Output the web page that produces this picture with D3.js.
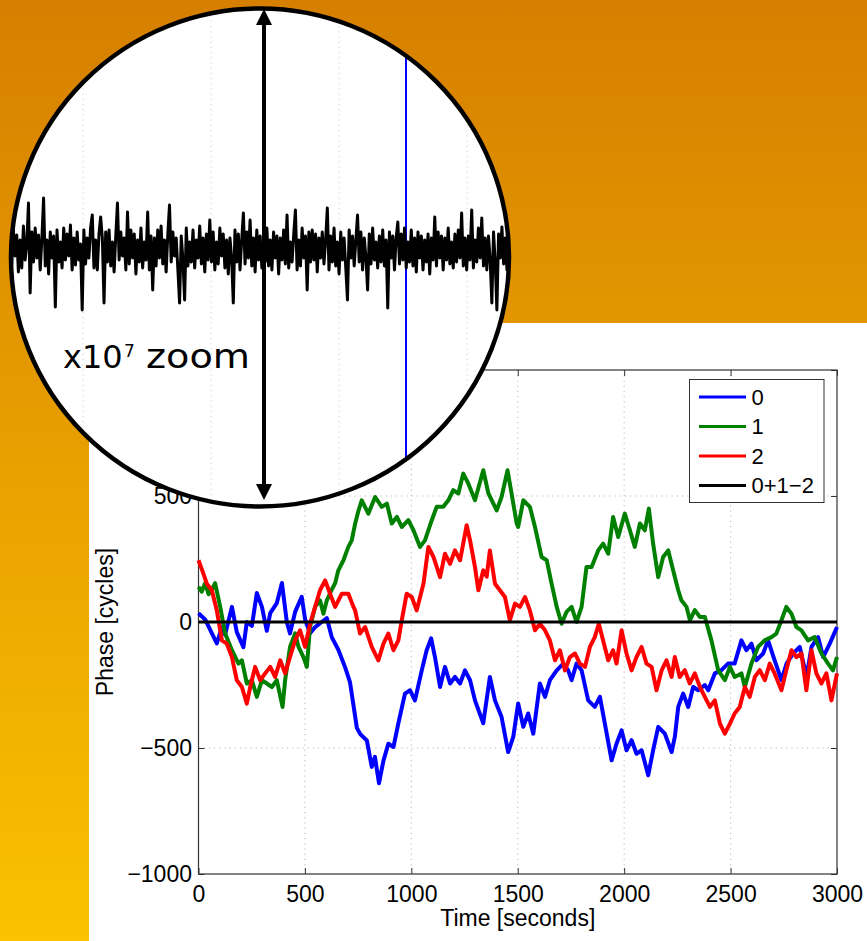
<!DOCTYPE html>
<html>
<head>
<meta charset="utf-8">
<script src="https://cdn.jsdelivr.net/npm/d3@7"></script>
<style>
  body { margin: 0; }
  svg { display: block; }
</style>
</head>
<body>
<script>
"use strict"

// phase of each clock, [time (s), phase (cycles)]
const phase0 = [[0,35],[31,10],[63,-45],[86,-85],[110,-20],[125,-50],[157,60],[180,-40],[211,-100],[227,0],[251,-15],[274,115],[298,60],[321,-35],[337,35],[368,75],[392,155],[415,0],[430,-45],[454,40],[485,100],[501,10],[524,-45],[548,-20],[579,0],[603,15],[626,-60],[657,-110],[689,-180],[712,-240],[728,-330],[744,-420],[760,-445],[791,-470],[814,-575],[829,-535],[848,-640],[869,-550],[892,-483],[916,-496],[939,-402],[970,-284],[994,-271],[1017,-311],[1049,-192],[1072,-112],[1093,-65],[1111,-139],[1135,-258],[1158,-178],[1182,-244],[1205,-218],[1229,-244],[1252,-192],[1276,-231],[1299,-311],[1338,-402],[1369,-218],[1393,-311],[1424,-377],[1455,-516],[1479,-456],[1502,-323],[1526,-416],[1549,-363],[1573,-443],[1604,-244],[1628,-297],[1651,-231],[1683,-192],[1714,-165],[1737,-192],[1753,-231],[1776,-165],[1800,-192],[1831,-311],[1862,-337],[1886,-297],[1909,-402],[1941,-549],[1964,-483],[1988,-430],[2011,-509],[2035,-469],[2058,-523],[2082,-509],[2113,-608],[2136,-509],[2160,-416],[2191,-443],[2223,-516],[2238,-456],[2254,-337],[2277,-284],[2301,-337],[2324,-258],[2348,-271],[2379,-250],[2395,-271],[2426,-204],[2457,-191],[2488,-165],[2519,-165],[2551,-73],[2574,-112],[2598,-86],[2621,-152],[2653,-125],[2676,-73],[2707,-152],[2739,-231],[2763,-165],[2794,-125],[2825,-99],[2857,-218],[2880,-99],[2911,-60],[2935,-139],[2966,-86],[3000,-20]]

const phase1 = [[0,139],[15,120],[31,154],[47,110],[63,128],[78,154],[102,60],[125,-45],[157,-112],[188,-165],[204,-152],[227,-244],[251,-231],[274,-297],[298,-231],[321,-244],[345,-258],[368,-231],[395,-337],[407,-231],[430,-99],[454,-45],[470,-99],[493,-139],[509,-178],[524,-20],[548,60],[571,86],[587,33],[603,86],[626,128],[642,154],[657,205],[681,245],[704,298],[720,324],[736,390],[751,440],[767,483],[798,430],[830,496],[861,457],[885,470],[908,391],[932,417],[955,377],[986,404],[1010,364],[1041,298],[1064,324],[1096,404],[1119,457],[1150,457],[1174,483],[1197,523],[1221,510],[1244,589],[1268,549],[1299,483],[1338,602],[1362,510],[1401,443],[1424,496],[1452,602],[1471,510],[1495,391],[1502,377],[1526,483],[1557,457],[1581,377],[1612,258],[1636,245],[1659,152],[1683,60],[1706,-7],[1729,40],[1753,60],[1776,0],[1800,60],[1823,218],[1847,218],[1878,284],[1901,311],[1925,271],[1948,417],[1972,337],[2003,430],[2027,364],[2050,298],[2074,391],[2097,364],[2116,450],[2136,311],[2160,178],[2183,258],[2207,284],[2230,205],[2254,126],[2269,86],[2293,60],[2309,7],[2332,47],[2356,20],[2379,20],[2410,-73],[2442,-192],[2473,-231],[2497,-178],[2519,-218],[2551,-204],[2567,-258],[2598,-165],[2629,-99],[2660,-73],[2692,-60],[2715,-46],[2739,7],[2762,60],[2786,33],[2809,-20],[2833,-33],[2864,-73],[2895,-60],[2927,-125],[2958,-165],[2981,-192],[3000,-139]]

const phase2 = [[0,245],[23,192],[39,152],[63,126],[86,46],[110,-73],[133,-86],[157,-139],[180,-231],[204,-258],[227,-324],[243,-258],[266,-178],[290,-231],[313,-204],[337,-178],[360,-218],[384,-152],[407,-204],[430,-139],[454,-73],[477,-33],[501,-99],[524,-7],[548,60],[571,126],[595,165],[618,112],[642,60],[673,112],[704,112],[728,60],[736,46],[759,-46],[783,-20],[814,-99],[845,-152],[869,-86],[892,-46],[916,-112],[939,-73],[955,7],[978,112],[1002,99],[1025,46],[1057,152],[1080,298],[1104,258],[1135,178],[1158,271],[1182,231],[1205,284],[1229,245],[1260,384],[1276,324],[1299,218],[1315,126],[1338,205],[1354,180],[1369,284],[1393,152],[1416,126],[1440,99],[1463,7],[1487,73],[1510,60],[1534,99],[1557,46],[1581,-33],[1604,-7],[1628,-33],[1651,-73],[1675,-152],[1698,-112],[1722,-192],[1745,-139],[1769,-125],[1792,-165],[1816,-178],[1839,-99],[1862,-60],[1881,-7],[1901,-73],[1925,-152],[1948,-112],[1964,-165],[1988,-33],[2011,-125],[2035,-192],[2058,-139],[2082,-99],[2105,-165],[2129,-178],[2152,-271],[2176,-192],[2199,-152],[2223,-218],[2238,-139],[2261,-218],[2285,-191],[2308,-244],[2332,-204],[2356,-258],[2379,-297],[2403,-337],[2426,-311],[2450,-403],[2473,-443],[2497,-403],[2519,-363],[2543,-337],[2567,-258],[2590,-297],[2614,-218],[2637,-191],[2661,-231],[2684,-165],[2707,-204],[2739,-271],[2762,-191],[2786,-112],[2809,-139],[2833,-125],[2856,-271],[2880,-112],[2903,-204],[2927,-244],[2950,-204],[2974,-311],[3000,-204]]

// closure 0+1-2, flat at this scale
const closure = [[0,0],[3000,0]]

// closure residual seen inside the magnifier (x10^7)
const residual = [
  8,-14,20,-6,15,-22,10,-18,24,-10,6,47,-43,18,-12,22,-8,15,-20,12,
  52,-16,10,-24,18,-8,14,-57,20,-12,8,-18,22,-10,16,-6,25,-20,12,-15,
  18,-10,6,-60,20,-14,12,-8,22,35,-18,10,-20,16,33,12,-53,18,-12,20,
  -16,8,-22,14,47,-10,18,-6,12,-20,38,-14,20,-8,16,-24,10,-12,22,-18,
  8,-10,38,-20,14,-40,12,-16,20,-8,24,-14,10,-22,16,45,-12,18,-6,12,
  -20,-53,14,-10,-50,22,-16,8,-12,20,-18,10,-8,24,-14,12,-22,16,-10,30,
  -12,18,-20,8,-14,22,-6,16,-18,10,-24,12,-8,-53,20,-12,16,-20,10,37,
  -14,18,-8,30,-16,12,-22,20,-10,14,-18,8,-12,22,-16,10,-20,18,-8,14,
  -24,12,-10,20,-14,35,-18,8,-12,16,40,-20,10,-16,22,-8,14,-40,18,-12,
  20,-10,16,-22,12,-8,18,-14,10,42,-20,14,-12,22,-16,8,-24,18,-10,12,
  -18,-50,20,-8,14,-16,10,35,-12,18,-20,12,-8,-40,16,-14,22,-10,8,-18,
  14,-12,20,-16,10,-58,18,-8,14,-20,12,28,-14,16,-10,22,-18,8,-12,20,
  -16,12,-22,18,-8,14,-20,10,-12,16,-24,12,-10,33,-16,18,-8,14,-20,12,
  -10,22,-14,8,-18,16,-12,20,-8,37,-16,12,-20,14,-10,40,-18,10,-12,22,
  -8,32,-16,12,-20,14,-10,-53,18,-12,-60,16,-8,23,-14,12,-20,18,-10,6
]

const seriesNames  = ["0", "1", "2", "0+1\u22122"]
const seriesColors = ["#0000ff", "#008000", "#ff0000", "#000000"]
const xTicks = [0, 500, 1000, 1500, 2000, 2500, 3000]
const yTicks = [-1000, -500, 0, 500, 1000]

const W = 867, H = 941
const plot = { left : 198.5, right : 837, top : 370, bottom : 874 }

const svg = d3.select("body").append("svg")
  .attr("width", W)
  .attr("height", H)
  .style("font-family", "'Liberation Sans', Arial, sans-serif")

// orange backdrop
const defs = svg.append("defs")
const grad = defs.append("linearGradient")
  .attr("id", "bg").attr("x1", 0).attr("y1", 0).attr("x2", 0).attr("y2", 1)
grad.append("stop").attr("offset", "0%").attr("stop-color", "#d67f00")
grad.append("stop").attr("offset", "100%").attr("stop-color", "#fac200")
svg.append("rect").attr("width", W).attr("height", H).attr("fill", "url(#bg)")

// white figure panel
svg.append("rect")
  .attr("x", 89).attr("y", 323).attr("width", W - 89).attr("height", H - 323)
  .attr("fill", "#fff")

const x = d3.scaleLinear().domain([0, 3000]).range([plot.left, plot.right])
const y = d3.scaleLinear().domain([-1000, 1000]).range([plot.bottom, plot.top])

// dotted grid
const grid = svg.append("g").attr("stroke", "#b8b8b8").attr("stroke-dasharray", "1.2,4").attr("stroke-width", 1)
grid.selectAll(".gx").data(xTicks.slice(1, -1)).join("line")
  .attr("x1", d => x(d)).attr("x2", d => x(d))
  .attr("y1", plot.top).attr("y2", plot.bottom)
grid.selectAll(".gy").data(yTicks.slice(1, -1)).join("line")
  .attr("y1", d => y(d)).attr("y2", d => y(d))
  .attr("x1", plot.left).attr("x2", plot.right)

// axes, ticks pointing inwards
const fmt = d3.format("d")
const styleAxis = g => {
  g.select(".domain").remove()
  g.selectAll(".tick line").attr("stroke", "#333")
  g.selectAll("text").attr("font-size", 23).attr("fill", "#000")
}
svg.append("g").attr("transform", `translate(0,${plot.bottom})`)
  .call(d3.axisBottom(x).tickValues(xTicks).tickFormat(fmt).tickSize(-6).tickPadding(11.5)).call(styleAxis)
  .attr("font-family", null)
svg.append("g").attr("transform", `translate(0,${plot.top})`)
  .call(d3.axisTop(x).tickValues(xTicks).tickSize(-6).tickFormat("")).call(styleAxis)
// top label (1000) sits under the magnifier, so it is left blank
svg.append("g").attr("transform", `translate(${plot.left},0)`)
  .call(d3.axisLeft(y).tickValues(yTicks).tickFormat(d => d === 1000 ? "" : fmt(d)).tickSize(-6).tickPadding(6.5))
  .call(styleAxis)
  .attr("font-family", null)
svg.append("g").attr("transform", `translate(${plot.right},0)`)
  .call(d3.axisRight(y).tickValues(yTicks).tickSize(-6).tickFormat("")).call(styleAxis)

svg.append("rect")
  .attr("x", plot.left).attr("y", plot.top)
  .attr("width", plot.right - plot.left).attr("height", plot.bottom - plot.top)
  .attr("fill", "none").attr("stroke", "#333").attr("stroke-width", 1.2)

// axis titles
svg.append("text")
  .attr("x", (plot.left + plot.right) / 2).attr("y", 926)
  .attr("text-anchor", "middle").attr("font-size", 23)
  .text("Time [seconds]")
svg.append("text")
  .attr("transform", `translate(113,${(plot.top + plot.bottom) / 2}) rotate(-90)`)
  .attr("text-anchor", "middle").attr("font-size", 23)
  .text("Phase [cycles]")

// phase traces
const line = d3.line().x(d => x(d[0])).y(d => y(d[1]))
svg.append("g").attr("fill", "none").attr("stroke-linejoin", "round")
  .selectAll("path").data([phase0, phase1, phase2, closure]).join("path")
  .attr("stroke", (d, i) => seriesColors[i])
  .attr("stroke-width", (d, i) => i === 3 ? 3 : 4)
  .attr("d", line)

// legend
const legend = svg.append("g")
legend.append("rect")
  .attr("x", 689.5).attr("y", 379.5).attr("width", 134.5).attr("height", 123)
  .attr("fill", "#fff").attr("stroke", "#333").attr("stroke-width", 1)
const items = legend.selectAll(".item").data(seriesNames).join("g")
  .attr("transform", (d, i) => `translate(0,${397 + i * 29.5})`)
items.append("line")
  .attr("x1", 699).attr("x2", 746)
  .attr("stroke", (d, i) => seriesColors[i]).attr("stroke-width", 3)
items.append("text")
  .attr("x", 751.5).attr("dy", "0.35em").attr("font-size", 22)
  .text(d => d)

// magnifier
const lens = { cx : 260, cy : 257.5, r : 249 }
defs.append("clipPath").attr("id", "lens")
  .append("circle").attr("cx", lens.cx).attr("cy", lens.cy).attr("r", lens.r)

const mag = svg.append("g")
mag.append("circle").attr("cx", lens.cx).attr("cy", lens.cy).attr("r", lens.r).attr("fill", "#fff")

const inner = mag.append("g").attr("clip-path", "url(#lens)")
const zx = d3.scaleLinear().domain([0, residual.length - 1]).range([10, 512])
const zy = d3.scaleLinear().domain([-100, 100]).range([350, 150])

inner.append("g").attr("stroke", "#d2d2d2").attr("stroke-dasharray", "1.2,4")
  .selectAll("line").data([83, 211, 339, 467]).join("line")
  .attr("x1", d => d).attr("x2", d => d).attr("y1", 0).attr("y2", 520)

inner.append("line")
  .attr("x1", 406).attr("x2", 406).attr("y1", 0).attr("y2", 520)
  .attr("stroke", "#0000ff").attr("stroke-width", 2)

inner.append("path")
  .datum(residual)
  .attr("fill", "none").attr("stroke", "#000").attr("stroke-width", 3).attr("stroke-linejoin", "round")
  .attr("d", d3.line().x((d, i) => zx(i)).y(d => zy(d)))

// double-headed arrow
const ax = 264
mag.append("line")
  .attr("x1", ax).attr("x2", ax).attr("y1", 20).attr("y2", 490)
  .attr("stroke", "#000").attr("stroke-width", 4)
mag.append("path").attr("d", `M${ax},9 L${ax - 8},25 L${ax + 8},25 Z`).attr("fill", "#000")
mag.append("path").attr("d", `M${ax},500 L${ax - 8},484 L${ax + 8},484 Z`).attr("fill", "#000")

// zoom label
const zoomFont = "'DejaVu Sans', Verdana, sans-serif"
mag.append("text").attr("x", 63).attr("y", 368).attr("font-size", 32).attr("font-family", zoomFont).text("x10")
mag.append("text").attr("x", 124).attr("y", 357).attr("font-size", 17).attr("font-family", zoomFont).text("7")
mag.append("text").attr("x", 146).attr("y", 368).attr("font-size", 34).attr("font-family", zoomFont)
  .attr("textLength", 104).attr("lengthAdjust", "spacingAndGlyphs").text("zoom")

mag.append("circle").attr("cx", lens.cx).attr("cy", lens.cy).attr("r", lens.r)
  .attr("fill", "none").attr("stroke", "#000").attr("stroke-width", 4.5)
</script>
</body>
</html>
